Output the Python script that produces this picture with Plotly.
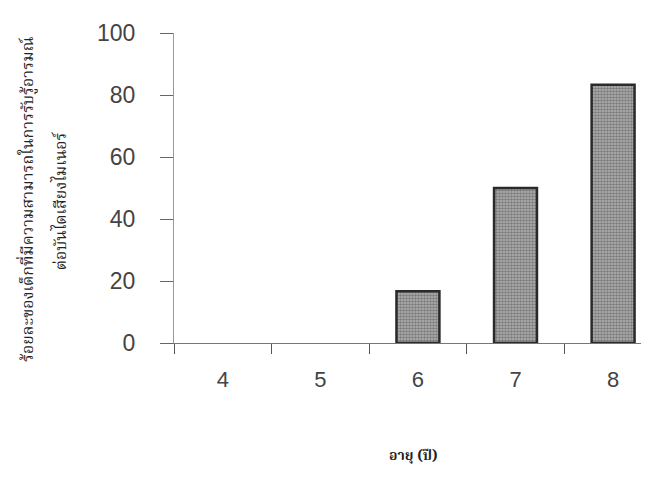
import plotly.graph_objects as go

ages = ["4", "5", "6", "7", "8"]
percent = [0, 0, 16.7, 50, 83.3]
y_ticks = [0, 20, 40, 60, 80, 100]

thai_font = "Noto Serif Thai, Noto Sans Thai, Garuda, Norasi, Loma, Tlwg Typo, serif"
num_font = "Liberation Sans Narrow, Arial Narrow, Liberation Sans, Arial"

fig = go.Figure()
fig.add_trace(go.Bar(
    x=ages, y=percent, width=0.44,
    marker=dict(
        color="#8f8f8f",
        line=dict(color="#2a2a2a", width=[0 if v == 0 else 2.5 for v in percent]),
        pattern=dict(shape=".", fgcolor="#444444", bgcolor="#b4b4b4", size=3, solidity=0.55),
    ),
))

fig.update_layout(
    width=649, height=492,
    margin=dict(l=166, r=0, t=25, b=157),
    paper_bgcolor="white", plot_bgcolor="white",
    showlegend=False,
    xaxis=dict(
        type="category", range=[-0.5, 4.45], tickson="boundaries",
        ticks="outside", ticklen=10, tickcolor="#555", tickwidth=1,
        showline=True, linecolor="#777", linewidth=1,
        showgrid=False, zeroline=False,
        tickfont=dict(family=num_font, size=22, color="#444"),
        ticklabelstandoff=17,
    ),
    yaxis=dict(
        range=[0, 100], tickvals=y_ticks,
        ticks="outside", ticklen=13, tickcolor="#666", tickwidth=1,
        showline=True, linecolor="#999999", linewidth=1,
        showgrid=False, zeroline=False,
        tickfont=dict(family=num_font, size=23, color="#444"),
        ticklabelstandoff=20,
    ),
)

# y-axis title (two lines)
fig.add_annotation(xref="paper", yref="paper", x=-0.30, y=0.465, xanchor="center", yanchor="middle",
                   text="ร้อยละของเด็กที่มีความสามารถในการรับรู้อารมณ์", textangle=-90, showarrow=False,
                   font=dict(family=thai_font, size=16, color="#222"))
fig.add_annotation(xref="paper", yref="paper", x=-0.232, y=0.46, xanchor="center", yanchor="middle",
                   text="ต่อบันไดเสียงไมเนอร์", textangle=-90, showarrow=False,
                   font=dict(family=thai_font, size=16, color="#222"))
# x-axis title
fig.add_annotation(xref="paper", yref="paper", x=0.495, y=-0.365, xanchor="center", yanchor="middle",
                   text="<b>อายุ (ปี)</b>", showarrow=False,
                   font=dict(family=thai_font, size=14, color="#222"))

fig.write_html("out.html")
